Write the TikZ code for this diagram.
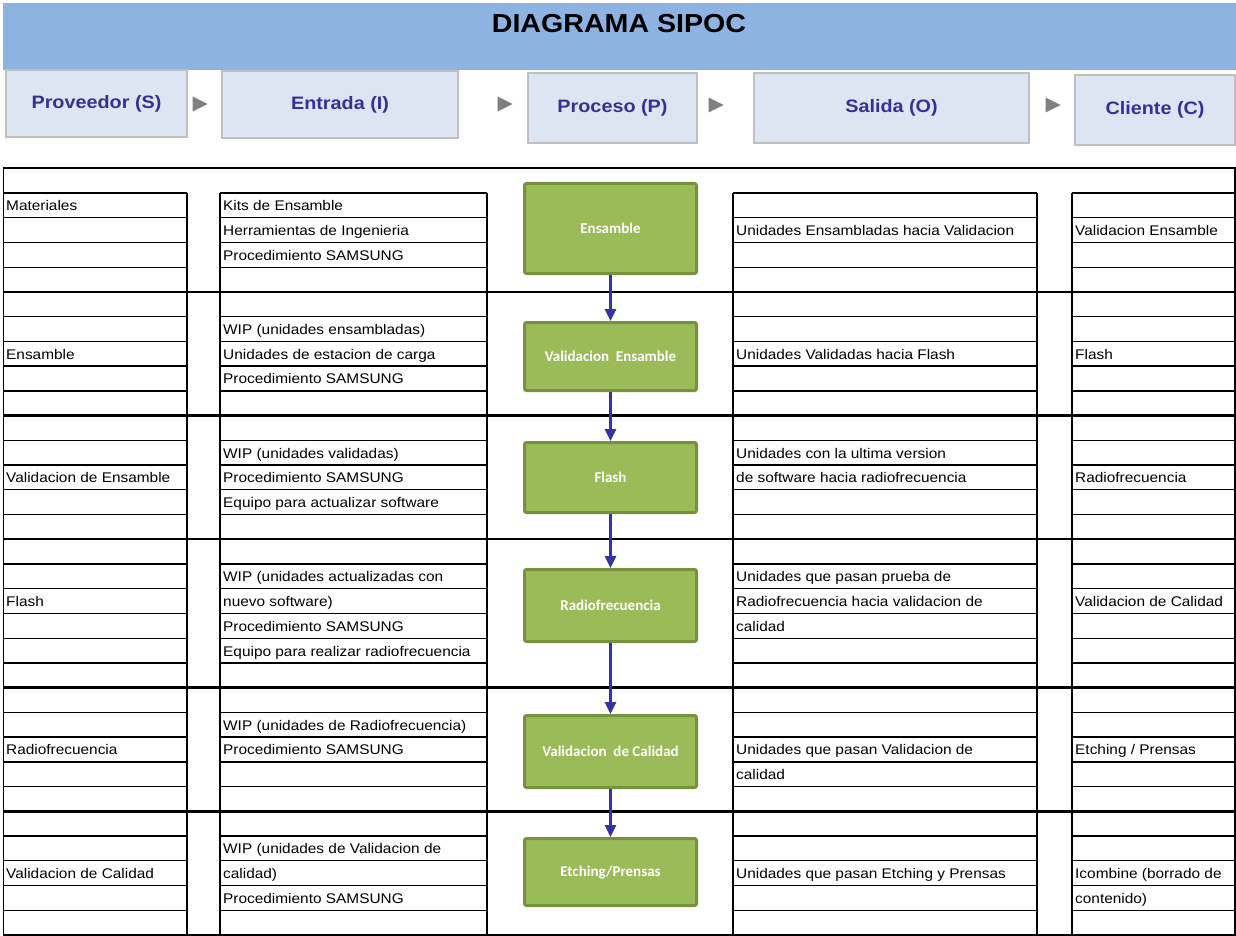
\documentclass[tikz,border=0pt]{standalone}
\usepackage{fontspec}
\setmainfont{Liberation Sans}[FakeStretch=1.1]
\newfontfamily\procfont{Carlito}
\usetikzlibrary{arrows.meta}

\definecolor{band}{HTML}{8DB3E2}
\definecolor{hdrfill}{HTML}{DCE6F2}
\definecolor{hdrline}{HTML}{BFBFBF}
\definecolor{hdrtext}{HTML}{323296}
\definecolor{tri}{HTML}{808080}
\definecolor{procfill}{HTML}{9BBB59}
\definecolor{procline}{HTML}{76923C}
\definecolor{flowblue}{HTML}{3434A0}

\begin{document}
\begin{tikzpicture}[x=1pt,y=-1pt,
  hdr/.style={draw=hdrline, line width=1.5pt, fill=hdrfill, inner sep=0pt,
    font=\bfseries\fontsize{18}{22}\selectfont, text=hdrtext},
  cell/.style={anchor=base west, inner sep=0pt, font=\fontsize{14}{16}\selectfont},
  procbox/.style={draw=procline, fill=procfill, line width=3pt, rounded corners=2pt,
    minimum width=172pt, inner sep=0pt, text=white,
    font=\procfont\bfseries\fontsize{15}{18}\selectfont},
  flow/.style={draw=flowblue, line width=2.7pt, -{Triangle[width=11pt,length=12pt]}},
  gridline/.style={line width=1.3pt},
  colline/.style={line width=1.8pt},
  sepline/.style={line width=2.4pt}]

\useasboundingbox (0,0) rectangle (1236,936);
\fill[white] (0,0) rectangle (1236,936);

% title band
\fill[band] (3,3) rectangle (1236,70);
\node[font=\bfseries\fontsize{26}{30}\selectfont, inner sep=0pt] (title) at (619,23.5) {DIAGRAMA SIPOC};

% SIPOC header boxes
\node[hdr, minimum width=181pt, minimum height=67pt] (hS) at (96.5,103.5) {Proveedor (S)};
\node[hdr, minimum width=236pt, minimum height=67pt] (hI) at (340,104.5) {Entrada (I)};
\node[hdr, minimum width=169pt, minimum height=70pt] (hP) at (612.5,108) {Proceso (P)};
\node[hdr, minimum width=275pt, minimum height=70pt] (hO) at (891.5,108) {Salida (O)};
\node[hdr, minimum width=160pt, minimum height=70pt] (hC) at (1155,110) {Cliente (C)};

% grey pointers between the headers
\foreach \cx/\cy in {200/104, 505/104, 716/105, 1053/105}
  \fill[tri] (\cx-7.5,\cy-7.5) -- (\cx+7.5,\cy) -- (\cx-7.5,\cy+7.5) -- cycle;

% table: cell rules of each column block
\foreach \i in {0,...,30}{
  \draw[gridline] (3,193+24.733*\i) -- (187,193+24.733*\i);
  \draw[gridline] (220,193+24.733*\i) -- (487,193+24.733*\i);
  \draw[gridline] (733,193+24.733*\i) -- (1037,193+24.733*\i);
  \draw[gridline] (1072,193+24.733*\i) -- (1235,193+24.733*\i);
}
% column borders
\foreach \x in {187,220,487,733,1037,1072}
  \draw[colline] (\x,193) -- (\x,935);
\draw[gridline] (3.5,168) -- (3.5,935);
\draw[gridline] (1235,168) -- (1235,935);
% group separators across the whole width
\foreach \i in {4,9,14,20,25,30}
  \draw[sepline] (3,193+24.733*\i) -- (1236,193+24.733*\i);
\draw[line width=2.6pt] (3,168) -- (1236,168);

% process steps
\node[procbox, minimum height=90pt] (p1) at (610.5,228.5) {Ensamble};
\node[procbox, minimum height=68pt] (p2) at (610.5,356.5) {Validacion\ \ Ensamble};
\node[procbox, minimum height=70pt] (p3) at (610.5,477.5) {Flash};
\node[procbox, minimum height=72pt] (p4) at (610.5,605.5) {Radiofrecuencia};
\node[procbox, minimum height=72pt] (p5) at (610.5,751.5) {Validacion\ \ de Calidad};
\node[procbox, minimum height=67pt] (p6) at (610.5,872) {Etching/Prensas};

\draw[flow] (p1) -- (p2);
\draw[flow] (p2) -- (p3);
\draw[flow] (p3) -- (p4);
\draw[flow] (p4) -- (p5);
\draw[flow] (p5) -- (p6);

% proveedores
\foreach \r/\t in {0/Materiales, 6/Ensamble, 11/{Validacion de Ensamble},
  16/Flash, 22/Radiofrecuencia, 27/{Validacion de Calidad}}
  \node[cell] (S-\r) at (6,193+24.733*\r+17.8) {\t};

% entradas
\foreach \r/\t in {0/{Kits de Ensamble}, 1/{Herramientas de Ingenieria},
  2/{Procedimiento SAMSUNG},
  5/{WIP (unidades ensambladas)}, 6/{Unidades de estacion de carga},
  7/{Procedimiento SAMSUNG},
  10/{WIP (unidades validadas)}, 11/{Procedimiento SAMSUNG},
  12/{Equipo para actualizar software},
  15/{WIP (unidades actualizadas con}, 16/{nuevo software)},
  17/{Procedimiento SAMSUNG}, 18/{Equipo para realizar radiofrecuencia},
  21/{WIP (unidades de Radiofrecuencia)}, 22/{Procedimiento SAMSUNG},
  26/{WIP (unidades de Validacion de}, 27/{calidad)},
  28/{Procedimiento SAMSUNG}}
  \node[cell] (I-\r) at (223,193+24.733*\r+17.8) {\t};

% salidas
\foreach \r/\t in {1/{Unidades Ensambladas hacia Validacion},
  6/{Unidades Validadas hacia Flash},
  10/{Unidades con la ultima version}, 11/{de software hacia radiofrecuencia},
  15/{Unidades que pasan prueba de}, 16/{Radiofrecuencia hacia validacion de},
  17/{calidad},
  22/{Unidades que pasan Validacion de}, 23/{calidad},
  27/{Unidades que pasan Etching y Prensas}}
  \node[cell] (O-\r) at (736,193+24.733*\r+17.8) {\t};

% clientes
\foreach \r/\t in {1/{Validacion Ensamble}, 6/Flash, 11/Radiofrecuencia,
  16/{Validacion de Calidad}, 22/{Etching / Prensas},
  27/{Icombine (borrado de}, 28/{contenido)}}
  \node[cell] (C-\r) at (1075,193+24.733*\r+17.8) {\t};

\end{tikzpicture}
\end{document}
